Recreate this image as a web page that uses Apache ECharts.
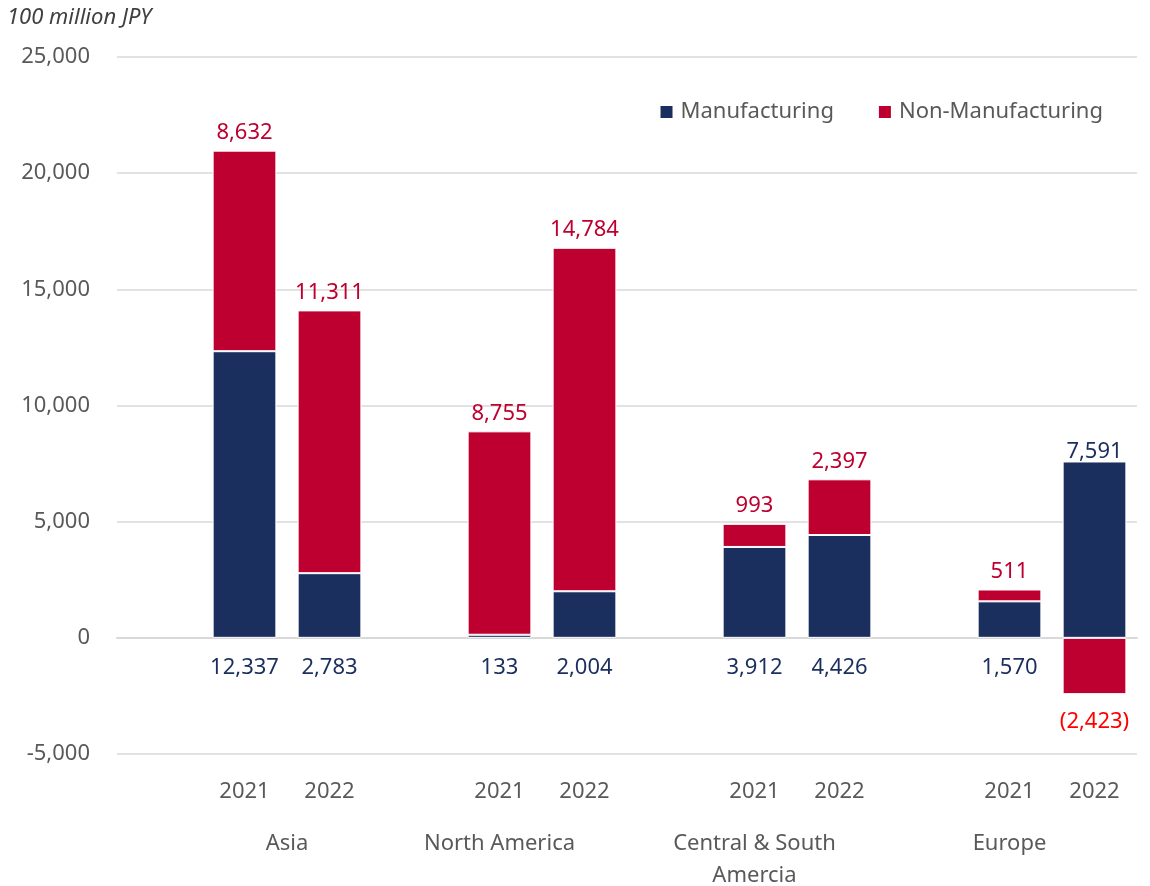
<!DOCTYPE html>
<html>
<head>
<meta charset="utf-8">
<script src="https://cdn.jsdelivr.net/npm/echarts@6/dist/echarts.min.js"></script>
<style>html,body{margin:0;padding:0;background:#fff;overflow:hidden}#c{width:1150px;height:886px}</style>
</head>
<body>
<div id="c"></div>
<script>
const categories = ['', '2021', '2022', '', '2021', '2022', '', '2021', '2022', '', '2021', '2022'];
const regions = ['Asia', 'North America', 'Central & South\nAmercia', 'Europe'];
const regionPos = [2, 4.5, 7.5, 10.5];
const manufacturing = [null, 12337, 2783, null, 133, 2004, null, 3912, 4426, null, 1570, 7591];
const nonManufacturing = [null, 8632, 11311, null, 8755, 14784, null, 993, 2397, null, 511, -2423];
const yTicks = [-5000, 0, 5000, 10000, 15000, 20000, 25000];

const FONT = 'Noto Sans';
const NAVY = '#1b2f5f';
const RED = '#bd002f';
const fmt = v => {
  const s = Math.abs(v).toLocaleString('en-US');
  return v < 0 ? '(' + s + ')' : s;
};

const mfgData = manufacturing.map((v, i) => {
  if (v === null) return null;
  const item = { value: v };
  if (i === 11) item.label = { position: 'top', distance: -1 };
  return item;
});
const nonData = nonManufacturing.map(v => {
  if (v === null) return null;
  const item = { value: v };
  if (v < 0) item.label = { position: 'bottom', color: '#ff0000', distance: 17 };
  return item;
});

const chart = echarts.init(document.getElementById('c'), null, { renderer: 'canvas' });
chart.setOption({
  animation: false,
  textStyle: { fontFamily: FONT },
  title: {
    text: '100 million JPY', left: 2, top: 2,
    textStyle: { fontFamily: FONT, fontStyle: 'italic', fontWeight: 'normal', fontSize: 22, color: '#404040' }
  },
  legend: {
    right: 42, top: 96, icon: 'rect', itemWidth: 14, itemHeight: 14, itemGap: 43,
    textStyle: { fontFamily: FONT, fontSize: 22, color: '#595959', padding: [0, 0, 0, 2] },
    data: ['Manufacturing', 'Non-Manufacturing']
  },
  grid: { left: 117, right: 13, top: 57, bottom: 132, containLabel: false, outerBoundsMode: 'none' },
  xAxis: [
    {
      type: 'category', data: categories, position: 'bottom',
      axisLine: { show: true, lineStyle: { color: '#d9d9d9', width: 2 } },
      axisTick: { show: false },
      axisLabel: { fontFamily: FONT, fontSize: 22, color: '#595959', margin: 27, interval: 0 }
    },
    {
      type: 'value', min: 0, max: 12, interval: 0.5, position: 'bottom',
      axisLine: { show: false }, axisTick: { show: false }, splitLine: { show: false },
      axisLabel: {
        fontFamily: FONT, fontSize: 22, color: '#595959', margin: 74, lineHeight: 32,
        showMinLabel: true, showMaxLabel: true,
        formatter: v => { const k = regionPos.indexOf(v); return k >= 0 ? regions[k] : ''; }
      }
    }
  ],
  yAxis: {
    type: 'value', min: yTicks[0], max: yTicks[yTicks.length - 1], interval: 5000,
    axisLine: { show: false }, axisTick: { show: false },
    splitLine: { lineStyle: { color: '#d9d9d9', width: 1.5 } },
    axisLabel: { fontFamily: FONT, fontSize: 22, color: '#595959', margin: 27, formatter: v => v.toLocaleString('en-US') }
  },
  series: [
    {
      name: 'Manufacturing', type: 'bar', stack: 'total', data: mfgData, xAxisIndex: 0,
      barWidth: '75%',
      itemStyle: { color: NAVY, borderColor: '#ffffff', borderWidth: 1 },
      label: { show: true, position: 'bottom', distance: 19, fontFamily: FONT, fontSize: 22, color: NAVY, formatter: p => fmt(p.value) }
    },
    {
      name: 'Non-Manufacturing', type: 'bar', stack: 'total', data: nonData, xAxisIndex: 0,
      barWidth: '75%',
      itemStyle: { color: RED, borderColor: '#ffffff', borderWidth: 1 },
      label: { show: true, position: 'top', distance: 7, fontFamily: FONT, fontSize: 22, color: RED, formatter: p => fmt(p.value) }
    }
  ]
});
</script>
</body>
</html>
